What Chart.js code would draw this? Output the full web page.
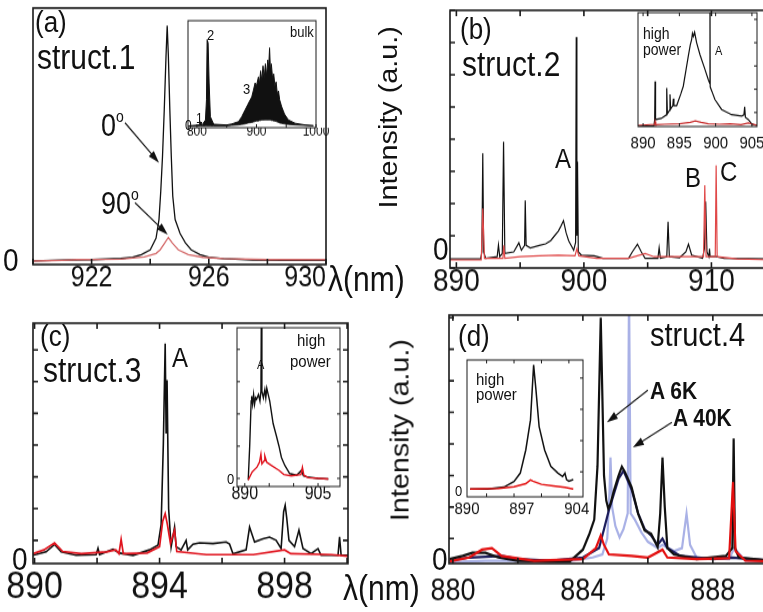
<!DOCTYPE html>
<html>
<head>
<meta charset="utf-8">
<script src="https://cdn.jsdelivr.net/npm/chart.js@4.4.0/dist/chart.umd.min.js"></script>
<style>
  body { margin: 0; background: #fff; overflow: hidden; }
  #fig { position: absolute; left: 0; top: 0; width: 763px; height: 533px;
         transform: scaleY(1.15); transform-origin: 0 0;
         font-family: 'Liberation Sans', Arial, Helvetica, sans-serif; color: #111; }
  #fig canvas { position: absolute; }
  .t { position: absolute; white-space: nowrap; line-height: 1; }
</style>
</head>
<body>
<div id="fig"></div>
<script>
// ---- data (wavelength in nm, intensity in arbitrary units) ----
// (a) struct.1
const aLam0 = [920, 921, 922, 923, 923.4, 923.7, 924.0, 924.2, 924.3, 924.36, 924.42, 924.48, 924.54, 924.58, 924.62, 924.67, 924.72, 924.77, 924.85, 925.02, 925.2, 925.4, 925.7, 926.0, 926.5, 927.5, 928.5, 930];
const aInt0 = [0.3, 0.6, 0.8, 1.3, 1.8, 3, 5, 10, 18, 30, 45, 65, 88, 101, 88, 65, 45, 28, 18, 12, 8, 5, 3, 1.8, 1.2, 0.7, 0.5, 0.5];
const aLam90 = [920, 921, 921.5, 923, 923.8, 924.2, 924.34, 924.5, 924.62, 924.75, 924.96, 925.3, 925.8, 926.5, 928, 930];
const aInt90 = [0.2, 0.5, 0.8, 1.0, 2.0, 3.5, 5.0, 8.0, 10.3, 8.0, 5.0, 3.0, 1.8, 1.2, 0.8, 0.8];
// (a) inset: bulk
const aiLam = [785.6, 803.5, 806, 808.7, 814.3, 816, 817.1, 818.8, 820.5, 822.6, 828.2, 850, 858.6, 869.7, 875, 880.9, 886, 892.1, 895, 897.7, 900, 903.3, 905, 907, 909, 911, 913, 915, 917, 919, 920.5, 922, 923.5, 925, 927, 929, 931, 933, 935, 937, 939, 942.5, 947, 953.6, 964.8, 981.6, 995.6];
const aiTop = [0, 1, 4.3, 1, 6, 26, 86, 83, 43, 9.3, 1.7, 1, 2, 4.3, 9, 16, 22, 29, 36, 43, 40, 49, 42, 55, 45, 60, 48, 62, 50, 66, 58, 78, 55, 62, 48, 52, 40, 44, 32, 35, 26, 19, 12, 6, 2.7, 1, 0.3];
const aiLow = [0, 0, 0, 0, 0, 0, 0, 0, 0, 0, 0, 0, 0.5, 1, 1.5, 2, 3, 3.5, 4, 4.5, 5, 5, 5.5, 5.5, 6, 6, 6, 6, 6, 6, 6, 6, 6, 5.5, 5.5, 5, 5, 4.5, 4, 3.5, 3, 2.5, 2, 1.5, 1, 0.5, 0.2];
// (b) struct.2
const bLamK = [889.5, 891.9, 892.0, 892.07, 892.14, 892.3, 893.2, 893.3, 893.4, 893.6, 893.7, 893.8, 894.5, 894.9, 895.1, 895.35, 895.4, 895.47, 895.8, 896.5, 897.0, 897.4, 897.7, 898.0, 898.2, 898.4, 898.6, 898.8, 899.2, 899.35, 899.4, 899.45, 899.5, 899.56, 899.8, 900.8, 901.5, 903.5, 903.8, 904.2, 904.5, 904.8, 905.8, 905.9, 906.0, 906.5, 906.6, 906.7, 907.5, 908.0, 908.2, 908.45, 909.3, 909.45, 909.55, 909.65, 909.8, 909.85, 909.9, 910.4, 911, 914.75];
const bIntK = [0.28, 0.28, 0.5, 3.56, 0.5, 0.3, 0.35, 0.71, 0.35, 0.45, 3.92, 0.45, 0.5, 0.78, 0.55, 0.7, 2.1, 0.7, 0.62, 0.7, 0.75, 0.85, 1.0, 1.15, 1.3, 1.47, 1.1, 0.85, 0.55, 0.8, 7.17, 1.0, 3.3, 0.5, 0.4, 0.38, 0.3, 0.3, 0.5, 0.74, 0.5, 0.3, 0.3, 0.63, 0.3, 0.35, 1.44, 0.35, 0.32, 0.5, 0.74, 0.4, 0.3, 0.6, 2.06, 0.5, 0.35, 0.6, 0.35, 0.35, 0.3, 0.28];
const bLamR = [889.5, 891.95, 892.07, 892.2, 893.65, 893.72, 893.8, 895.0, 896.5, 898.0, 899.3, 899.45, 899.6, 901, 903.5, 904.8, 905.5, 907, 909.38, 909.48, 909.58, 910.3, 910.37, 910.45, 912, 914.75];
const bIntR = [0.25, 0.25, 1.85, 0.3, 0.3, 0.7, 0.3, 0.35, 0.38, 0.4, 0.38, 0.6, 0.38, 0.3, 0.3, 0.45, 0.35, 0.35, 0.35, 2.57, 0.35, 0.35, 3.19, 0.35, 0.28, 0.25];
// (b) inset: high power
const biLamK = [889.3, 891.5, 891.6, 891.65, 891.72, 892.5, 893.2, 893.26, 893.35, 893.65, 893.71, 893.8, 894.1, 894.17, 894.25, 894.63, 895.2, 895.54, 895.9, 896.23, 896.5, 896.69, 896.8, 896.92, 897.1, 897.38, 897.84, 898.53, 899.0, 899.2, 899.22, 899.25, 899.5, 899.9, 900.83, 902.2, 903.6, 903.9, 904.0, 904.1, 904.5, 905.0, 905.7];
const biIntK = [-0.59, -0.57, -0.3, 1.34, -0.3, -0.25, -0.1, 1.06, -0.05, 0.1, 0.78, 0.15, 0.3, 0.6, 0.3, 0.3, 0.8, 1.13, 1.8, 2.42, 2.9, 3.13, 3.4, 3.27, 3.45, 3.0, 2.49, 1.85, 1.4, 1.25, 5, 1.1, 0.9, 0.56, 0.13, -0.09, -0.15, -0.1, 0.25, -0.2, -0.3, -0.5, -0.55];
const biLamR = [889.3, 891.6, 891.65, 891.75, 893, 895, 896.5, 897.2, 898, 899, 900.5, 902, 903.5, 904.5, 905.7];
const biIntR = [-0.55, -0.5, -0.38, -0.52, -0.5, -0.48, -0.42, -0.36, -0.42, -0.48, -0.5, -0.48, -0.52, -0.45, -0.55];
// (c) struct.3
const cLamK = [889.95, 890.37, 890.64, 890.85, 891.33, 891.97, 892.03, 892.08, 892.51, 892.72, 893.15, 893.68, 893.95, 894.05, 894.12, 894.18, 894.21, 894.24, 894.29, 894.37, 894.48, 894.53, 894.69, 894.85, 894.9, 895.07, 895.28, 895.71, 896.13, 896.24, 896.35, 896.77, 896.88, 897.04, 897.31, 897.52, 897.73, 897.89, 897.97, 898.02, 898.07, 898.14, 898.32, 898.46, 898.59, 898.85, 899.07, 899.17, 899.71, 899.76, 899.81, 900.03];
const cIntK = [-0.47, -0.36, -0.13, -0.36, -0.47, -0.45, -0.25, -0.45, -0.28, -0.4, -0.47, -0.3, -0.15, 0.5, 3.0, 6.2, 3.36, 5.05, 1.0, -0.21, 0.42, -0.2, -0.3, 0.0, -0.3, -0.12, -0.08, -0.1, -0.05, -0.12, -0.42, -0.3, 0.42, -0.05, 0.05, 0.1, 0.0, -0.26, 0.9, 1.1, 0.7, 0.0, -0.2, 0.32, -0.26, -0.42, -0.26, -0.47, -0.47, 0.11, -0.47, -0.47];
const cLamR = [889.95, 890.3, 890.64, 890.9, 891.5, 892.3, 892.6, 892.7, 892.77, 892.84, 893.6, 894.0, 894.1, 894.18, 894.25, 894.35, 894.48, 894.55, 895.5, 897.0, 898.0, 898.2, 899.5, 900.03];
const cIntR = [-0.42, -0.3, -0.08, -0.35, -0.42, -0.36, -0.3, -0.42, 0.03, -0.42, -0.4, -0.2, 0.6, 0.84, 0.5, -0.1, 0.32, -0.35, -0.45, -0.45, -0.3, -0.42, -0.45, -0.5];
// (c) inset: high power
const ciLamK = [890.7, 891.0, 891.3, 891.4, 891.6, 891.8, 892.0, 892.2, 892.4, 892.8, 893.1, 893.3, 893.4, 893.5, 893.8, 894.1, 894.3, 894.5, 894.8, 895.1, 895.5, 895.8, 896.5, 897.0, 897.5, 898.2, 899.2, 900.6, 901.3, 901.6, 902.0, 902.7, 905, 907.1];
const ciIntK = [-0.05, 1.0, 2.4, 2.55, 2.3, 2.6, 2.3, 2.5, 2.45, 2.6, 2.4, 2.7, 5.5, 2.7, 2.5, 2.75, 2.5, 2.8, 2.6, 2.4, 2.0, 1.7, 1.3, 1.0, 0.65, 0.4, 0.15, 0.1, 0.2, 0.25, 0.08, 0.05, 0.0, -0.02];
const ciLamR = [890.7, 891.5, 892.5, 893.0, 893.3, 893.5, 894.0, 894.1, 894.5, 895.5, 897.0, 898.0, 899.5, 901.5, 901.8, 902.1, 903.0, 907.1];
const ciIntR = [-0.05, 0.2, 0.35, 0.5, 0.75, 0.45, 0.55, 0.7, 0.5, 0.4, 0.25, 0.12, 0.08, 0.12, 0.35, 0.1, 0.02, -0.02];
// (d) struct.4 : black, navy, light blue (40K), red
const dLamK = [879.9, 880.3, 880.6, 881.0, 881.4, 882.0, 883.0, 883.6, 884.0, 884.2, 884.35, 884.45, 884.55, 884.6, 884.65, 884.72, 884.78, 884.85, 884.95, 885.1, 885.2, 885.3, 885.5, 885.7, 885.9, 886.1, 886.3, 886.38, 886.45, 886.52, 886.6, 886.8, 887.5, 888.4, 888.6, 888.64, 888.68, 888.8, 889.82];
const dIntK = [-0.65, -0.55, -0.45, -0.45, -0.6, -0.7, -0.72, -0.72, -0.35, 0.15, 0.6, 2.3, 7.0, 4.5, 2.0, 1.2, 0.95, 1.1, 1.5, 2.0, 2.28, 2.1, 1.63, 0.79, 0.26, 0.15, -0.27, 0.8, 2.57, 1.0, -0.3, -0.5, -0.65, -0.55, -0.3, 3.17, -0.3, -0.6, -0.7];
const dLamN = [879.9, 880.5, 881.5, 882, 883, 884, 884.5, 884.8, 885.1, 885.25, 885.5, 885.7, 885.9, 886.1, 886.3, 886.45, 886.6, 887, 888, 888.6, 889.82];
const dIntN = [-0.7, -0.6, -0.55, -0.65, -0.7, -0.6, -0.3, 0.9, 1.9, 2.15, 1.55, 0.8, 0.3, 0.1, -0.2, 0.0, -0.3, -0.55, -0.65, -0.6, -0.7];
const dLamL = [879.9, 881, 882, 883.5, 884.3, 884.6, 884.75, 884.82, 884.85, 884.9, 885.0, 885.13, 885.25, 885.38, 885.42, 885.47, 885.6, 885.8, 886.0, 886.3, 886.45, 886.8, 887.05, 887.19, 887.3, 887.5, 888.5, 888.66, 889, 889.82];
const dIntL = [-0.75, -0.7, -0.7, -0.72, -0.6, -0.5, 0.0, 1.5, 2.57, 1.0, 0.4, 0.04, 0.3, 0.8, 8, 0.8, 0.6, 0.2, -0.1, -0.3, -0.2, -0.4, -0.3, 0.79, -0.2, -0.6, -0.65, -0.3, -0.7, -0.72];
const dLamR = [879.9, 880.5, 880.9, 881.2, 881.5, 882.5, 884.0, 884.4, 884.55, 884.65, 884.8, 885.5, 886.0, 886.45, 886.6, 887.5, 888.5, 888.62, 888.7, 889, 889.82];
const dIntR = [-0.72, -0.6, -0.35, -0.3, -0.55, -0.7, -0.65, -0.3, 0.1, -0.2, -0.5, -0.55, -0.6, -0.35, -0.6, -0.65, -0.62, 1.79, -0.4, -0.7, -0.72];
// (d) inset: high power
const diLamK = [890.4, 892.6, 894.7, 896.0, 896.8, 897.5, 898.1, 898.5, 898.8, 899.2, 899.9, 900.7, 901.6, 902.2, 902.5, 902.7, 903.0, 903.56];
const diIntK = [0.45, 0.45, 0.51, 0.69, 0.96, 1.7, 2.66, 4.42, 3.62, 2.45, 1.7, 1.17, 0.96, 0.85, 0.95, 0.75, 0.7, 0.75];
const diLamR = [890.4, 894, 896, 897.5, 898.1, 898.4, 899.5, 901, 902.5, 903.56];
const diIntR = [0.45, 0.47, 0.52, 0.62, 0.74, 0.7, 0.6, 0.55, 0.5, 0.45];

// tick labels
const aTicks = [922, 926, 930];
const aiTicks = [800, 900, 1000];
const bTicks = [890, 900, 910];
const biTicks = [890, 895, 900, 905];
const cTicks = [890, 894, 898];
const ciTicks = [890, 905];
const dTicks = [880, 884, 888];
const diTicks = [890, 897, 904];

// ---- layout ----
const S = 1.15; // the whole figure is a bit taller than wide
const fig = document.getElementById('fig');
Chart.defaults.font.family = "'Liberation Sans', Arial, Helvetica, sans-serif";
Chart.defaults.color = '#111';

const pts = (xs, ys) => xs.map((x, i) => ({ x, y: ys[i] }));

// box frame, inward tick marks and arrows
const framePlugin = {
  id: 'frame',
  afterDatasetsDraw(chart, args, o) {
    const { ctx, chartArea: a, scales: { x, y } } = chart;
    const len = o.len || 5;
    ctx.save();
    ctx.strokeStyle = '#1a1a1a';
    ctx.lineWidth = o.width || 1.5;
    ctx.strokeRect(a.left, a.top, a.right - a.left, a.bottom - a.top);
    ctx.beginPath();
    const marks = (scale, step, fn) => {
      if (!step) return;
      for (let v = Math.ceil(scale.min / step - 1e-9) * step; v <= scale.max + 1e-9; v += step) fn(scale.getPixelForValue(v));
    };
    marks(x, o.bottom, p => { ctx.moveTo(p, a.bottom); ctx.lineTo(p, a.bottom - len); });
    marks(x, o.top, p => { ctx.moveTo(p, a.top); ctx.lineTo(p, a.top + len); });
    marks(y, o.left, p => { ctx.moveTo(a.left, p); ctx.lineTo(a.left + len, p); });
    marks(y, o.right, p => { ctx.moveTo(a.right, p); ctx.lineTo(a.right - len, p); });
    ctx.stroke();
    (o.arrows || []).forEach(ar => {
      const x0 = x.getPixelForValue(ar.from[0]), y0 = y.getPixelForValue(ar.from[1]);
      const x1 = x.getPixelForValue(ar.to[0]), y1 = y.getPixelForValue(ar.to[1]);
      const ang = Math.atan2(y1 - y0, x1 - x0), c = Math.cos(ang), s = Math.sin(ang);
      const hl = 11, hw = 3.5;
      ctx.lineWidth = 1.2;
      ctx.beginPath(); ctx.moveTo(x0, y0); ctx.lineTo(x1 - c * 6, y1 - s * 6); ctx.stroke();
      ctx.fillStyle = '#111';
      ctx.beginPath();
      ctx.moveTo(x1, y1);
      ctx.lineTo(x1 - hl * c + hw * s, y1 - hl * s - hw * c);
      ctx.lineTo(x1 - hl * c - hw * s, y1 - hl * s + hw * c);
      ctx.closePath(); ctx.fill();
    });
    ctx.restore();
  }
};
Chart.register(framePlugin);

// box = [left, right, top, bottom] in page pixels
function panel(box, o) {
  const padL = o.pad, padR = o.pad, padT = 3;
  const plotH = (box[3] - box[2]) / S;
  const w = box[1] - box[0] + padL + padR;
  const h = Math.round(plotH + padT + o.axisH);
  const cv = document.createElement('canvas');
  cv.width = w; cv.height = h;
  Object.assign(cv.style, { left: (box[0] - padL) + 'px', top: (box[2] / S - padT) + 'px', width: w + 'px', height: h + 'px' });
  fig.appendChild(cv);
  // with align 'inner' a blank tick at the axis start keeps the last label flush with the box edge
  const tickVals = o.inner ? [o.xMin].concat(o.labels) : o.labels;
  return new Chart(cv, {
    type: 'line',
    data: {
      datasets: o.series.map(s => ({
        data: pts(s.x, s.y), borderColor: s.color, borderWidth: s.width,
        backgroundColor: s.color, fill: s.fill || false,
        pointRadius: 0, tension: 0, order: s.order || 0
      }))
    },
    options: {
      responsive: false, animation: false, events: [],
      layout: { padding: { left: padL, right: padR, top: padT, bottom: 0 } },
      plugins: { legend: { display: false }, tooltip: { enabled: false }, frame: o.frame },
      scales: {
        x: {
          type: 'linear', min: o.xMin, max: o.xMax,
          grid: { display: false, drawTicks: false }, border: { display: false },
          afterFit: s => { s.height = o.axisH; },
          afterBuildTicks: s => { s.ticks = tickVals.map(v => ({ value: v })); },
          ticks: {
            autoSkip: false, maxRotation: 0, padding: o.tickPad, color: '#111', font: { size: o.font },
            align: o.inner ? 'inner' : 'center',
            callback: v => o.labels.includes(v) ? String(v) : ''
          }
        },
        y: { type: 'linear', display: false, min: o.yMin, max: o.yMax }
      }
    }
  });
}

function txt(html, x, capTop, size, bold) {
  const d = document.createElement('div');
  d.className = 't';
  d.innerHTML = html;
  d.style.left = x + 'px';
  d.style.top = (capTop / S - 0.13 * size) + 'px';
  d.style.fontSize = size + 'px';
  if (bold) d.style.fontWeight = 'bold';
  fig.appendChild(d);
}
function vtxt(html, cx, cy, size) {
  const d = document.createElement('div');
  d.className = 't';
  d.innerHTML = html;
  Object.assign(d.style, { left: cx + 'px', top: (cy / S) + 'px', fontSize: size + 'px', transform: 'translate(-50%,-50%) rotate(-90deg)' });
  fig.appendChild(d);
}

const BLACK = '#111111';

// (a)
panel([33, 326, 8, 265], {
  pad: 36, axisH: 34, font: 25, tickPad: -2.5, labels: aTicks, inner: true,
  xMin: 920, xMax: 930, yMin: -1.28, yMax: 108.5,
  frame: { width: 1.6, bottom: 2, len: 5, arrows: [
    { from: [923.14, 59.4], to: [924.3, 42.3] },
    { from: [923.48, 25.2], to: [924.6, 11.5] }
  ] },
  series: [
    { x: aLam90, y: aInt90, color: '#d46a6a', width: 1.3, order: 0 },
    { x: aLam0, y: aInt0, color: BLACK, width: 1.3, order: 1 }
  ]
});
panel([188, 316, 21, 128], {
  pad: 20, axisH: 16, font: 12, tickPad: -3.8, labels: aiTicks,
  xMin: 785, xMax: 1000, yMin: -1.7, yMax: 105,
  frame: { width: 1, bottom: 50, len: 3 },
  series: [
    { x: aiLam, y: aiTop, color: BLACK, width: 1, fill: '+1', order: 0 },
    { x: aiLam, y: aiLow, color: BLACK, width: 0.8, order: 1 }
  ]
});

// (b)
panel([450, 772, 10, 268], {
  pad: 36, axisH: 36, font: 28, tickPad: -4.5, labels: bTicks,
  xMin: 889.5, xMax: 914.75, yMin: 0, yMax: 8,
  frame: { width: 1.6, left: 1, top: 5, bottom: 5, len: 5 },
  series: [
    { x: bLamR, y: bIntR, color: '#e04848', width: 1.2, order: 0 },
    { x: bLamK, y: bIntK, color: BLACK, width: 1.2, order: 1 }
  ]
});
panel([638, 757, 13, 127], {
  pad: 20, axisH: 26, font: 15, tickPad: 6, labels: biTicks,
  xMin: 889.3, xMax: 905.7, yMin: -0.6, yMax: 4.29,
  frame: { width: 1, right: 1, top: 5, bottom: 5, len: 3 },
  series: [
    { x: biLamR, y: biIntR, color: '#c83030', width: 1.2, order: 0 },
    { x: biLamK, y: biIntK, color: BLACK, width: 1.2, order: 1 }
  ]
});

// (c)
panel([33, 348, 323, 563], {
  pad: 36, axisH: 46, font: 34, tickPad: 0.5, labels: cTicks,
  xMin: 889.95, xMax: 900.03, yMin: -0.73, yMax: 6.84,
  frame: { width: 1.6, left: 1, right: 1, top: 2, bottom: 2, len: 5 },
  series: [
    { x: cLamR, y: cIntR, color: '#e0141e', width: 1.7, order: 0 },
    { x: cLamK, y: cIntK, color: BLACK, width: 1.6, order: 1 }
  ]
});
panel([237, 340, 328, 487], {
  pad: 20, axisH: 22, font: 16, tickPad: -3, labels: ciTicks,
  xMin: 888.4, xMax: 909.5, yMin: -0.25, yMax: 4.67,
  frame: { width: 1, left: 1, right: 1, bottom: 5, len: 3 },
  series: [
    { x: ciLamR, y: ciIntR, color: '#e0141e', width: 1.4, order: 0 },
    { x: ciLamK, y: ciIntK, color: BLACK, width: 1.4, order: 1 }
  ]
});

// (d)
panel([449, 772, 315, 563], {
  pad: 36, axisH: 46, font: 27, tickPad: 8.3, labels: dTicks,
  xMin: 879.88, xMax: 889.82, yMin: -0.79, yMax: 7.08,
  frame: { width: 1.6, left: 1, top: 2, bottom: 2, len: 5, arrows: [
    { from: [886.0, 4.7], to: [884.74, 3.68] },
    { from: [886.74, 3.68], to: [885.54, 2.89] }
  ] },
  series: [
    { x: dLamR, y: dIntR, color: '#e31010', width: 2.2, order: 0 },
    { x: dLamK, y: dIntK, color: BLACK, width: 2.2, order: 1 },
    { x: dLamN, y: dIntN, color: '#1c1c5c', width: 2.2, order: 2 },
    { x: dLamL, y: dIntL, color: '#a9b1e6', width: 2.2, order: 3 }
  ]
});
panel([467, 583, 360, 497], {
  pad: 20, axisH: 24, font: 15, tickPad: 1.6, labels: diTicks,
  xMin: 890, xMax: 904.8, yMin: 0.2, yMax: 4.58,
  frame: { width: 1, right: 1, top: 3.5, bottom: 3.5, len: 3 },
  series: [
    { x: diLamR, y: diIntR, color: '#e31010', width: 1.5, order: 0 },
    { x: diLamK, y: diIntK, color: BLACK, width: 1.5, order: 1 }
  ]
});

// ---- text ----
const deg = '<span style="font-size:14px;position:relative;top:-12px">o</span>';
txt('(a)', 35, 11, 26);
txt('struct.1', 37, 45, 30);
txt('0' + deg, 101, 114, 27);
txt('90' + deg, 101, 193, 27);
txt('0', 3, 249, 28);
txt('bulk', 290, 26, 13);
txt('2', 207, 29, 13);
txt('3', 243, 84, 13);
txt('1', 196, 113, 12);
txt('0', 185, 120, 12);
txt('λ(nm)', 328, 267, 30);

txt('(b)', 460, 18, 26);
txt('struct.2', 462, 52, 30);
txt('A', 555, 149, 24);
txt('B', 685, 168, 24);
txt('C', 720, 161, 24);
txt('0', 433, 238, 28);
vtxt('Intensity (a.u.)', 388, 117, 25);
txt('high', 643, 27, 14);
txt('power', 643, 44, 14);
txt('A', 715, 47, 11);

txt('(c)', 40, 325, 26);
txt('struct.3', 43, 357, 30);
txt('A', 172, 347, 24);
txt('0', 12, 548, 28);
txt('A', 257, 361, 11);
txt('high', 297, 333, 15);
txt('power', 290, 354, 15);
txt('0', 227, 474, 13);
txt('λ(nm)', 343, 576, 30);

txt('(d)', 458, 325, 26);
txt('struct.4', 650, 323, 29);
txt('A 6K', 650, 381, 21, true);
txt('A 40K', 673, 408, 21, true);
txt('0', 432, 548, 28);
vtxt('Intensity (a.u.)', 400, 430, 25);
txt('high', 476, 372, 15);
txt('power', 476, 388, 15);
txt('0', 455, 485, 13);
</script>
</body>
</html>
